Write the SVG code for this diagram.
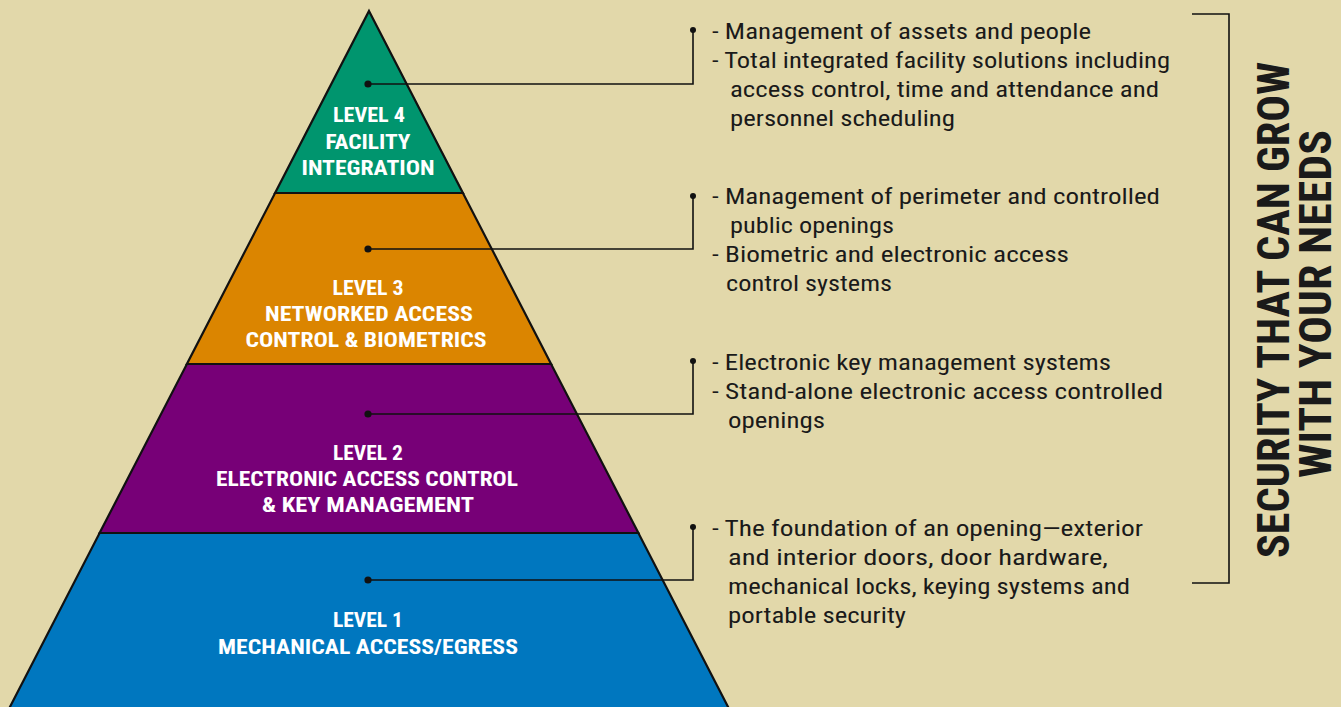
<svg xmlns="http://www.w3.org/2000/svg" width="1341" height="707" viewBox="0 0 1341 707">
<style>
.bg{fill:#E2D8AA}
.band{stroke:#111;stroke-width:2.2;stroke-linejoin:miter}
.lbl{font-family:"Liberation Sans Narrow","Roboto Condensed","Liberation Sans",Arial,sans-serif;font-weight:bold;font-size:21px;fill:#fff;text-anchor:middle}
.txt{font-family:"Liberation Sans Narrow","Roboto Condensed","Liberation Sans",Arial,sans-serif;font-size:22px;fill:#1a1a1a}
.conn{fill:none;stroke:#111;stroke-width:1.6}
.dot{fill:#111}
.side{font-family:"Liberation Sans Narrow","Roboto Condensed","Liberation Sans",Arial,sans-serif;font-weight:bold;font-size:44px;fill:#1a1a1a;text-anchor:middle}
</style>
<rect class="bg" x="0" y="0" width="1341" height="707"/>
<g id="level1">
<polygon class="band" fill="#0077BF" points="99.6,533 638.4,533 734.8,720 3.2,720"/>
<text class="lbl" x="368" y="627" textLength="70" lengthAdjust="spacingAndGlyphs">LEVEL 1</text>
<text class="lbl" x="368" y="654" textLength="300" lengthAdjust="spacingAndGlyphs">MECHANICAL ACCESS/EGRESS</text>
</g>
<g id="level2">
<polygon class="band" fill="#770077" points="186.9,364 551.1,364 638.4,533 99.6,533"/>
<text class="lbl" x="368" y="460" textLength="70" lengthAdjust="spacingAndGlyphs">LEVEL 2</text>
<text class="lbl" x="367" y="486" textLength="302" lengthAdjust="spacingAndGlyphs">ELECTRONIC ACCESS CONTROL</text>
<text class="lbl" x="368" y="512" textLength="212" lengthAdjust="spacingAndGlyphs">&amp; KEY MANAGEMENT</text>
</g>
<g id="level3">
<polygon class="band" fill="#DB8500" points="275.1,193 462.9,193 551.1,364 186.9,364"/>
<text class="lbl" x="368" y="295" textLength="71" lengthAdjust="spacingAndGlyphs">LEVEL 3</text>
<text class="lbl" x="369" y="321" textLength="208" lengthAdjust="spacingAndGlyphs">NETWORKED ACCESS</text>
<text class="lbl" x="366" y="347" textLength="241" lengthAdjust="spacingAndGlyphs">CONTROL &amp; BIOMETRICS</text>
</g>
<g id="level4">
<polygon class="band" fill="#00956E" points="369,11 462.9,193 275.1,193"/>
<text class="lbl" x="369" y="122" textLength="72" lengthAdjust="spacingAndGlyphs">LEVEL 4</text>
<text class="lbl" x="368" y="149" textLength="85" lengthAdjust="spacingAndGlyphs">FACILITY</text>
<text class="lbl" x="368" y="175" textLength="133" lengthAdjust="spacingAndGlyphs">INTEGRATION</text>
</g>
<g id="connectors">
<polyline class="conn" points="368,84 693,84 693,30"/>
<circle class="dot" cx="368" cy="84" r="3.6"/><circle class="dot" cx="693" cy="30" r="3"/>
<polyline class="conn" points="368,249 693,249 693,196"/>
<circle class="dot" cx="368" cy="249" r="3.6"/><circle class="dot" cx="693" cy="196" r="3"/>
<polyline class="conn" points="368,414 693,414 693,361"/>
<circle class="dot" cx="368" cy="414" r="3.6"/><circle class="dot" cx="693" cy="361" r="3"/>
<polyline class="conn" points="368,580 693,580 693,527"/>
<circle class="dot" cx="368" cy="580" r="3.6"/><circle class="dot" cx="693" cy="527" r="3"/>
</g>
<g id="desc4">
<text class="txt" x="712" y="39" textLength="379" lengthAdjust="spacingAndGlyphs">- Management of assets and people</text>
<text class="txt" x="712" y="68" textLength="458" lengthAdjust="spacingAndGlyphs">- Total integrated facility solutions including</text>
<text class="txt" x="730" y="97" textLength="429" lengthAdjust="spacingAndGlyphs">access control, time and attendance and</text>
<text class="txt" x="730" y="126" textLength="225" lengthAdjust="spacingAndGlyphs">personnel scheduling</text>
</g>
<g id="desc3">
<text class="txt" x="712" y="204" textLength="448" lengthAdjust="spacingAndGlyphs">- Management of perimeter and controlled</text>
<text class="txt" x="730" y="233" textLength="164" lengthAdjust="spacingAndGlyphs">public openings</text>
<text class="txt" x="712" y="262" textLength="357" lengthAdjust="spacingAndGlyphs">- Biometric and electronic access</text>
<text class="txt" x="726" y="291" textLength="166" lengthAdjust="spacingAndGlyphs">control systems</text>
</g>
<g id="desc2">
<text class="txt" x="712" y="370" textLength="399" lengthAdjust="spacingAndGlyphs">- Electronic key management systems</text>
<text class="txt" x="712" y="399" textLength="451" lengthAdjust="spacingAndGlyphs">- Stand-alone electronic access controlled</text>
<text class="txt" x="728" y="428" textLength="97" lengthAdjust="spacingAndGlyphs">openings</text>
</g>
<g id="desc1">
<text class="txt" x="712" y="536" textLength="431" lengthAdjust="spacingAndGlyphs">- The foundation of an opening—exterior</text>
<text class="txt" x="728" y="565" textLength="380" lengthAdjust="spacingAndGlyphs">and interior doors, door hardware,</text>
<text class="txt" x="728" y="594" textLength="402" lengthAdjust="spacingAndGlyphs">mechanical locks, keying systems and</text>
<text class="txt" x="728" y="623" textLength="178" lengthAdjust="spacingAndGlyphs">portable security</text>
</g>
<g id="bracket">
<polyline class="conn" points="1192,14 1229,14 1229,583 1192,583"/>
<text class="side" transform="translate(1289,310) rotate(-90)" textLength="496" lengthAdjust="spacingAndGlyphs">SECURITY THAT CAN GROW</text>
<text class="side" transform="translate(1331,304) rotate(-90)" textLength="348" lengthAdjust="spacingAndGlyphs">WITH YOUR NEEDS</text>
</g>
</svg>
